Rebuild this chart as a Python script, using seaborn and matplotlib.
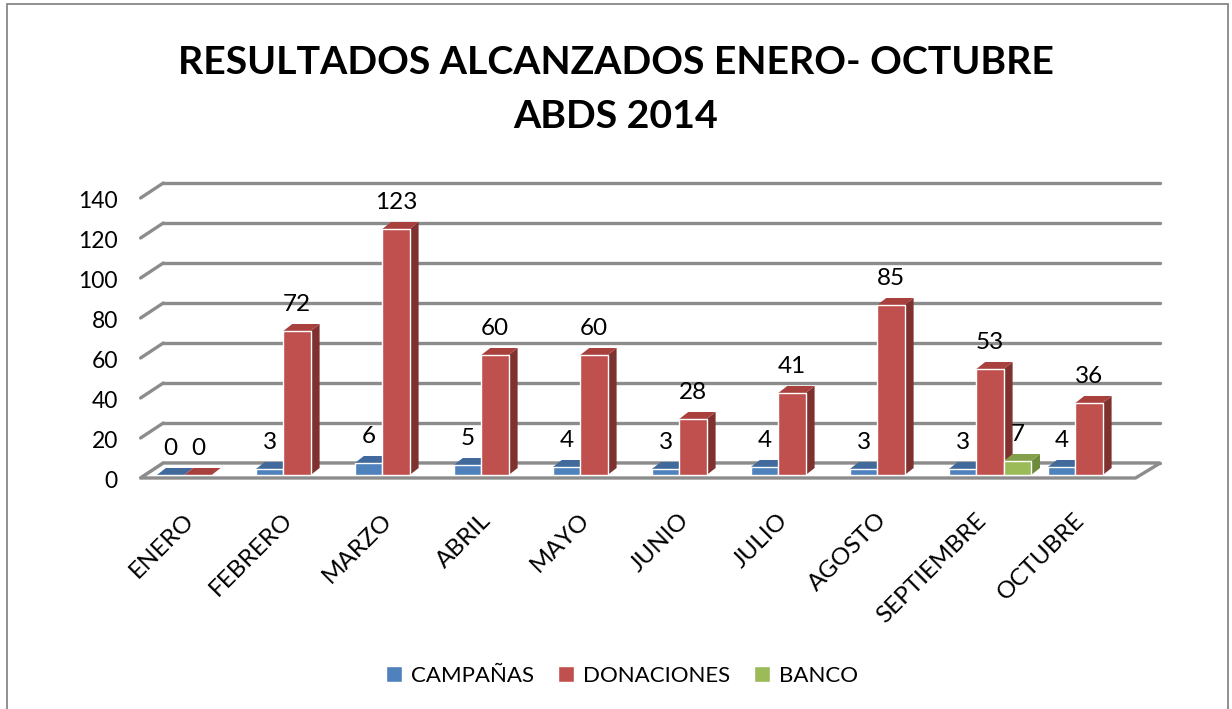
import numpy as np
import pandas as pd
import matplotlib.pyplot as plt
from matplotlib.patches import Polygon, Rectangle
from matplotlib.transforms import ScaledTranslation
import seaborn as sns

sns.set_style('white')
plt.rcParams['font.family'] = ['Lato', 'DejaVu Sans']
plt.rcParams['text.color'] = 'black'
plt.rcParams['xtick.color'] = 'black'
plt.rcParams['ytick.color'] = 'black'

meses = ['ENERO', 'FEBRERO', 'MARZO', 'ABRIL', 'MAYO', 'JUNIO', 'JULIO',
         'AGOSTO', 'SEPTIEMBRE', 'OCTUBRE']
campanas = [0, 3, 6, 5, 4, 3, 4, 3, 3, 4]
donaciones = [0, 72, 123, 60, 60, 28, 41, 85, 53, 36]
banco = [None, None, None, None, None, None, None, None, 7, None]
series = ['CAMPAÑAS', 'DONACIONES', 'BANCO']
y_ticks = [0, 20, 40, 60, 80, 100, 120, 140]

colores = ['#4F81BD', '#C0504D', '#9BBB59']
lados = ['#385D8A', '#7F312F', '#6E8A3C']
techos = ['#41699C', '#A8413E', '#849F4A']

rows = []
for nombre, vals in zip(series, [campanas, donaciones, banco]):
    for mes, v in zip(meses, vals):
        if v is not None:
            rows.append({'mes': mes, 'serie': nombre, 'valor': v})
df = pd.DataFrame(rows)

fig = plt.figure(figsize=(12.32, 7.09), dpi=100)
ax = fig.add_axes([148.5 / 1232, 1 - 475 / 709, 990 / 1232, 280 / 709])

sns.barplot(data=df, x='mes', y='valor', hue='serie', order=meses,
            hue_order=series, palette=colores, width=0.83, saturation=1,
            errorbar=None, ax=ax)

ax.set_xlim(-0.5, 9.5)
ax.set_ylim(0, 140)
for s in ax.spines.values():
    s.set_visible(False)

# fake 3D: back wall gridlines offset up/right
gx, gy = 0.23, 7.5
for v in y_ticks:
    ax.plot([-0.58, -0.58 + gx], [v - 1.5, v - 1.5 + gy], color='#8c8c8c',
            lw=2.4, clip_on=False, zorder=0.5)
    ax.plot([-0.58 + gx, 9.72], [v - 1.5 + gy, v - 1.5 + gy], color='#8c8c8c',
            lw=2.4, clip_on=False, zorder=0.5)
floor = Polygon([(-0.58, -1.5), (9.47, -1.5), (9.72, 6), (-0.35, 6)],
                closed=True, fc='white', ec='#8c8c8c', lw=2.4, clip_on=False,
                zorder=0.6)
ax.add_patch(floor)

# depth faces of each bar
dx, dy = 0.09, 3.5
for i, cont in enumerate(ax.containers):
    for bar in cont:
        h = bar.get_height()
        if np.isnan(h):
            continue
        x0 = bar.get_x()
        x1 = x0 + bar.get_width()
        lado = Polygon([(x1, 0), (x1 + dx, dy), (x1 + dx, h + dy), (x1, h)],
                       closed=True, fc=lados[i], ec='none', zorder=0.9,
                       clip_on=False)
        techo = Polygon([(x0, h), (x1, h), (x1 + dx, h + dy), (x0 + dx, h + dy)],
                        closed=True, fc=techos[i], ec='none', zorder=0.9,
                        clip_on=False)
        ax.add_patch(lado)
        ax.add_patch(techo)
        ax.annotate(f'{int(h)}', (x0 + bar.get_width() / 2, h),
                    xytext=(0, 19), textcoords='offset points',
                    ha='center', va='center', fontsize=17.5)

ax.set_yticks(y_ticks)
ax.set_yticklabels([str(v) for v in y_ticks], fontsize=16.5)
ax.tick_params(axis='y', length=0, pad=22)
for lab in ax.get_yticklabels():
    lab.set_transform(lab.get_transform() + ScaledTranslation(0, -0.04, fig.dpi_scale_trans))

ax.set_xticks(range(len(meses)))
ax.set_xticklabels(meses, rotation=45, ha='right', rotation_mode='anchor',
                   fontsize=17.5)
ax.tick_params(axis='x', length=0, pad=24)
for lab in ax.get_xticklabels():
    lab.set_transform(lab.get_transform() + ScaledTranslation(-0.15, -0.01, fig.dpi_scale_trans))
ax.set_xlabel('')
ax.set_ylabel('')

handles, labels = ax.get_legend_handles_labels()
ax.legend_.remove()
fig.legend(handles, labels, loc='center', bbox_to_anchor=(0.5 + 6 / 1232, 1 - 676 / 709),
           ncol=3, frameon=False, fontsize=16, handlelength=0.7,
           handleheight=0.7, handletextpad=0.4, columnspacing=1.1)

fig.text(0.5, 1 - 62 / 709, 'RESULTADOS ALCANZADOS ENERO- OCTUBRE',
         ha='center', va='center', fontsize=28.3, fontweight='bold')
fig.text(0.5, 1 - 117 / 709, 'ABDS 2014', ha='center', va='center',
         fontsize=28.3, fontweight='bold')

fig.patches.append(Rectangle((7 / 1232, -0.05), 1221 / 1232, 1 - 4 / 709 + 0.05,
                             transform=fig.transFigure, fill=False,
                             ec='#888888', lw=1.3))

fig.savefig('out.png', dpi=100)
